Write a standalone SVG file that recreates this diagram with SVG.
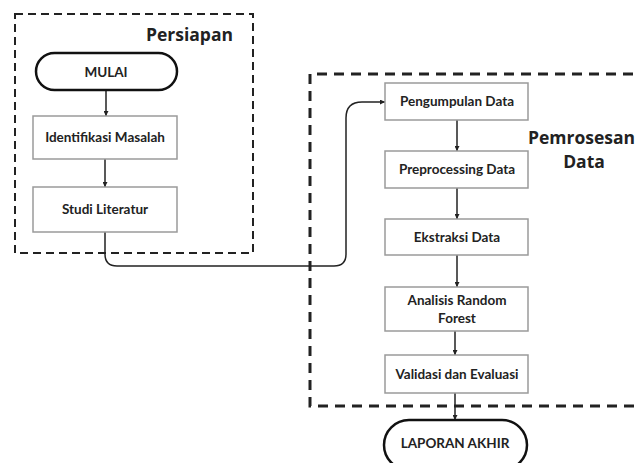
<svg xmlns="http://www.w3.org/2000/svg" width="636" height="463" viewBox="0 0 636 463">
<defs>
<marker id="ah" viewBox="0 0 10 10" refX="10" refY="5" markerWidth="5" markerHeight="5" orient="auto" markerUnits="userSpaceOnUse">
<path d="M0,0 L10,5 L0,10 z" fill="#222"/>
</marker>
<style>
.box{fill:#fff;stroke:#9a9a9a;stroke-width:1.5}
.term{fill:#fff;stroke:#111;stroke-width:2.5}
.t{font-family:Lato,"Liberation Sans",sans-serif;font-weight:bold;font-size:13.5px;fill:#222;text-anchor:middle}
.lbl{font-family:"Open Sans","DejaVu Sans",sans-serif;font-weight:bold;font-size:17.5px;fill:#222}
.grp1{fill:none;stroke:#222;stroke-width:2;stroke-dasharray:8 5}
.grp2{fill:none;stroke:#222;stroke-width:3;stroke-dasharray:10 7}
.c{fill:none;stroke:#222;stroke-width:1.5}
</style>
</defs>
<rect width="636" height="463" fill="#fff"/>
<g id="group-persiapan">
<rect class="grp1" x="15" y="14" width="238" height="239"/>
<text class="lbl" x="233" y="41" text-anchor="end">Persiapan</text>
</g>
<g id="group-pemrosesan">
<path class="grp2" d="M650,74 H310 V406 H650"/>
<text class="lbl" x="528" y="144">Pemrosesan</text>
<text class="lbl" x="584" y="168" text-anchor="middle">Data</text>
</g>
<g id="connectors">
<line class="c" x1="106" y1="90" x2="106" y2="116" marker-end="url(#ah)"/>
<line class="c" x1="105" y1="159" x2="105" y2="187" marker-end="url(#ah)"/>
<path class="c" d="M105,232 V254 Q105,266 117,266 H334 Q346,266 346,254 V118 Q346,102 362,102 H385" marker-end="url(#ah)"/>
<line class="c" x1="457" y1="120" x2="457" y2="151" marker-end="url(#ah)"/>
<line class="c" x1="457" y1="188" x2="457" y2="219" marker-end="url(#ah)"/>
<line class="c" x1="457" y1="255" x2="457" y2="287" marker-end="url(#ah)"/>
<line class="c" x1="455" y1="331" x2="455" y2="355" marker-end="url(#ah)"/>
<line class="c" x1="455" y1="393" x2="455" y2="420" marker-end="url(#ah)"/>
</g>
<g id="node-mulai">
<rect class="term" x="36" y="53" width="141" height="37" rx="18.5"/>
<text class="t" x="106" y="76.5">MULAI</text>
</g>
<g id="node-identifikasi">
<rect class="box" x="33" y="116" width="144" height="43"/>
<text class="t" x="105" y="142">Identifikasi Masalah</text>
</g>
<g id="node-studi">
<rect class="box" x="33" y="187" width="144" height="45"/>
<text class="t" x="105" y="214">Studi Literatur</text>
</g>
<g id="node-pengumpulan">
<rect class="box" x="385" y="83" width="143" height="37"/>
<text class="t" x="457" y="106">Pengumpulan Data</text>
</g>
<g id="node-preprocessing">
<rect class="box" x="385" y="151" width="143" height="37"/>
<text class="t" x="457" y="174">Preprocessing Data</text>
</g>
<g id="node-ekstraksi">
<rect class="box" x="385" y="219" width="143" height="36"/>
<text class="t" x="457" y="241.5">Ekstraksi Data</text>
</g>
<g id="node-analisis">
<rect class="box" x="385" y="287" width="143" height="44"/>
<text class="t" x="457" y="305">Analisis Random</text>
<text class="t" x="457" y="323">Forest</text>
</g>
<g id="node-validasi">
<rect class="box" x="385" y="355" width="143" height="38"/>
<text class="t" x="457" y="378.5">Validasi dan Evaluasi</text>
</g>
<g id="node-laporan">
<rect class="term" x="384" y="420" width="143" height="50" rx="25"/>
<text class="t" x="455" y="448">LAPORAN AKHIR</text>
</g>
</svg>
